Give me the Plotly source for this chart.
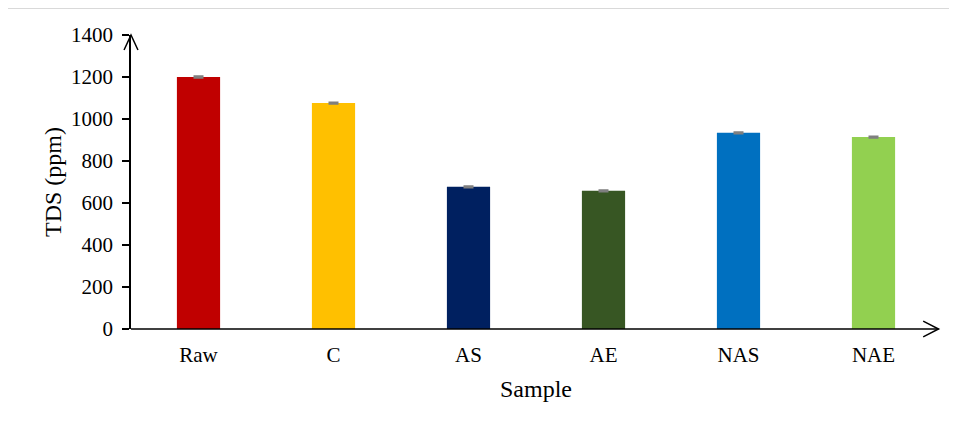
import plotly.graph_objects as go

samples = ["Raw", "C", "AS", "AE", "NAS", "NAE"]
tds = [1200, 1076, 677, 658, 934, 914]
tds_err = [3, 3, 3, 3, 3, 3]
colors = ["#C00000", "#FFC000", "#002060", "#375623", "#0070C0", "#92D050"]
yticks = [0, 200, 400, 600, 800, 1000, 1200, 1400]

FONT = "Liberation Serif, Times New Roman, serif"

fig = go.Figure()
fig.add_trace(go.Bar(
    x=samples, y=tds, marker=dict(color=colors, line=dict(width=0)),
    width=0.32,
    error_y=dict(type="data", array=tds_err, visible=True, color="#7F7F7F", thickness=2, width=5),
    showlegend=False,
))

fig.update_layout(
    width=949, height=423,
    margin=dict(l=123, r=16, t=27, b=102),
    paper_bgcolor="white", plot_bgcolor="white",
    font=dict(family=FONT, size=21, color="black"),
    xaxis=dict(
        automargin=False,
        showline=False, ticks="outside", ticklen=7, tickcolor="rgba(0,0,0,0)", showgrid=False,
        tickfont=dict(size=21), title=dict(text="Sample", font=dict(size=24), standoff=13),
    ),
    yaxis=dict(
        automargin=False,
        range=[0, 1400], tickvals=yticks, showgrid=False, zeroline=False,
        showline=True, linecolor="black", linewidth=1.5,
        ticks="outside", ticklen=7, tickwidth=1.5, tickcolor="black",
        ticklabelstandoff=5,
        tickfont=dict(size=21),
        title=dict(text="TDS (ppm)", font=dict(size=24), standoff=3),
    ),
    shapes=[
        # top border line
        dict(type="line", xref="paper", yref="paper", x0=-0.154, x1=1.0185, y0=1.092, y1=1.092,
             line=dict(color="#D9D9D9", width=2)),
        # x axis line
        dict(type="line", xref="paper", yref="paper", x0=0, x1=0.997, y0=0, y1=0,
             line=dict(color="black", width=1.5)),
        # x arrowhead
        dict(type="path", xref="paper", yref="paper",
             path="M 0.978,0.027 L 0.997,0 L 0.978,-0.027",
             line=dict(color="black", width=1.5)),
        # y arrowhead
        dict(type="path", xref="paper", yref="paper",
             path="M -0.0086,0.949 L 0,1.0 L 0.0086,0.949",
             line=dict(color="black", width=1.5)),
    ],
)

fig.write_html("out.html")
